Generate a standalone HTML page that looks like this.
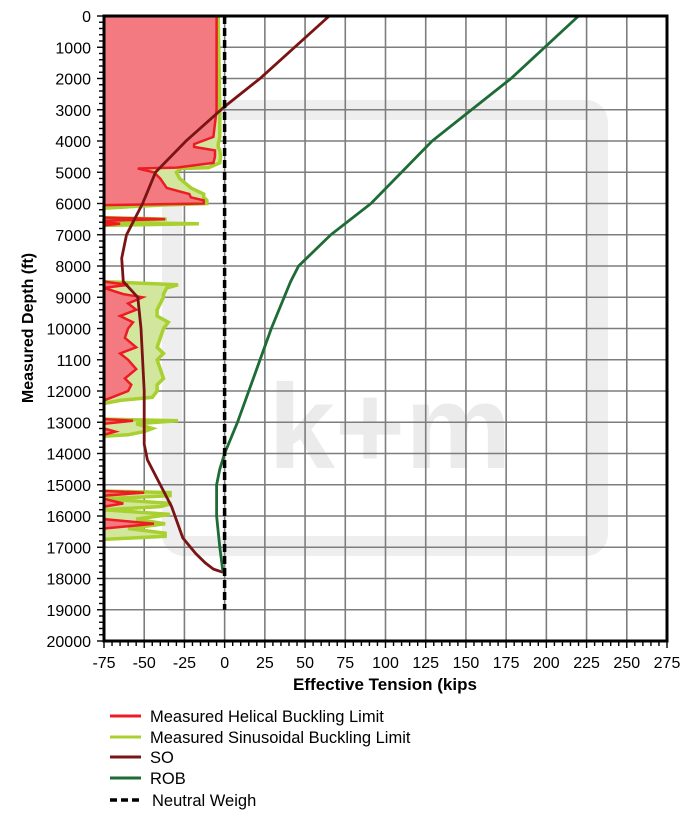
<!DOCTYPE html>
<html><head><meta charset="utf-8"><style>
body{margin:0;background:#fff;width:694px;height:819px;overflow:hidden;font-family:"Liberation Sans",Arial,sans-serif}
svg text{font-family:"Liberation Sans",Arial,sans-serif}
</style></head><body>
<svg id="chart" width="694" height="819" xmlns="http://www.w3.org/2000/svg">
<g id="wm">
<rect x="172" y="110" width="426" height="436" rx="12" fill="none" stroke="#eeeeee" stroke-width="20"/>
<text x="390" y="468" text-anchor="middle" font-size="120" font-weight="bold" fill="#ebebeb">k+m</text>
</g>
<g id="grid"></g>
<g id="fills"></g>
<g id="lines"></g>
<g id="axes"></g>
<text x="385" y="690" text-anchor="middle" font-size="17" font-weight="bold">Effective Tension (kips</text>
<text transform="translate(33,328) rotate(-90)" text-anchor="middle" font-size="16" font-weight="bold">Measured Depth (ft)</text>
<g font-size="16.5">
<g><line x1="110" x2="141" y1="716" y2="716" stroke="#ed1c24" stroke-width="3"/><text x="150" y="722">Measured Helical Buckling Limit</text></g>
<g><line x1="110" x2="141" y1="737" y2="737" stroke="#a8d030" stroke-width="3"/><text x="150" y="743">Measured Sinusoidal Buckling Limit</text></g>
<g><line x1="110" x2="141" y1="757" y2="757" stroke="#7a1414" stroke-width="3"/><text x="150" y="763">SO</text></g>
<g><line x1="110" x2="141" y1="778" y2="778" stroke="#1d6b35" stroke-width="3"/><text x="150" y="784">ROB</text></g>
<g><line x1="110" x2="141" y1="800" y2="800" stroke="#000" stroke-width="3.5" stroke-dasharray="7,4"/><text x="152" y="806">Neutral Weigh</text></g>
</g>
</svg>
<script>
const xTicks=[-75,-50,-25,0,25,50,75,100,125,150,175,200,225,250,275];
const yTicks=[0,1000,2000,3000,4000,5000,6000,7000,8000,9000,10000,11000,12000,13000,14000,15000,16000,17000,18000,19000,20000];
const yTickLabels=["0","1000","2000","3000","4000","5000","6000","7000","8000","9000","10000","1100","12000","13000","14000","15000","16000","17000","18000","19000","20000"];
const soDepth=[0,2000,2900,4000,5000,6000,7000,7750,8500,9000,10000,11000,12000,13000,13700,14200,15100,15700,16700,17200,17500,17700,17800];
const soTension=[65,22,0,-24,-43,-51,-61,-64,-63,-54,-52,-51,-50,-50,-50,-48,-39,-33,-26,-18,-12,-7,-1];
const robDepth=[0,2000,4000,6000,7000,8000,8500,10000,12000,13000,14000,14500,15000,16000,17000,17800];
const robTension=[220,178,129,91,66,46,41,29,15,8,0,-3,-5,-5,-3,-1];
const neutralDepth=[0,19000];
const neutralTension=[0,0];
const seg1Depth=[0,3000,3870,4100,4190,4300,4500,4700,4850,4880,5000,5200,5500,5700,5800,5900,6000,6050,6150,6250];
const seg1Helical=[-5,-5,-7,-19,-19,-6,-6,-7,-30,-54,-44,-40,-36,-22,-21,-13,-13,-75,-75,-75];
const seg1Sinus=[-4,-3,-3,-4,-4,-3,-2.5,-3,-10,-27,-30,-28,-21,-13,-13,-11,-11,-40,-75,-75];
const seg2Depth=[6450,6500,6550,6600,6650,6700];
const seg2Helical=[-75,-37,-75,-75,-65,-75];
const seg2Sinus=[-75,-36,-75,-75,-16,-75];
const seg3Depth=[8500,8600,8700,8900,9000,9200,9400,9600,9800,10000,10300,10600,10800,11000,11300,11600,11800,12000,12200,12300,12400];
const seg3Helical=[-75,-60,-75,-63,-51,-60,-55,-65,-57,-60,-62,-55,-65,-60,-55,-62,-58,-60,-70,-75,-75];
const seg3Sinus=[-75,-29,-36,-38,-38,-40,-42,-42,-35,-38,-40,-42,-38,-42,-40,-38,-42,-42,-45,-65,-75];
const seg4Depth=[12900,12950,13050,13200,13300,13400,13450];
const seg4Helical=[-75,-57,-75,-75,-68,-75,-75];
const seg4Sinus=[-75,-29,-55,-45,-50,-60,-75];
const seg5Depth=[15200,15250,15350,15450,15600,15700,15800,15950,16100,16250,16400,16550,16650,16750];
const seg5Helical=[-75,-50,-75,-75,-63,-75,-75,-75,-75,-44,-75,-75,-75,-75];
const seg5Sinus=[-75,-34,-34,-75,-33,-40,-75,-34,-55,-37,-60,-37,-37,-75];

const X0=104,X1=667,Y0=16,Y1=641;
const sx=v=>X0+(v+75)/350*(X1-X0);
const sy=d=>Y0+d/20000*(Y1-Y0);
const NS="http://www.w3.org/2000/svg";
function mk(tag,attrs,parent){const e=document.createElementNS(NS,tag);for(const k in attrs)e.setAttribute(k,attrs[k]);parent.appendChild(e);return e;}
const grid=document.getElementById('grid'),axes=document.getElementById('axes'),fills=document.getElementById('fills'),lines=document.getElementById('lines');
xTicks.forEach(t=>{const l=mk('line',{x1:sx(t),x2:sx(t),y1:Y0,y2:Y1,stroke:'#7d7d7d','stroke-width':1.6},grid);


const tx=mk('text',{x:sx(t),y:668,'text-anchor':'middle','font-size':16},axes);tx.textContent=t;

});
yTicks.forEach((t,i)=>{const l=mk('line',{x1:X0,x2:X1,y1:sy(t),y2:sy(t),stroke:'#7d7d7d','stroke-width':1.6},grid);


const tx=mk('text',{x:91,y:sy(t)+6,'text-anchor':'end','font-size':16},axes);tx.textContent=yTickLabels[i];

});
for(let v=-75;v<=275;v+=5){mk('line',{x1:sx(v),x2:sx(v),y1:Y1,y2:Y1+(v%25===0?7:5),stroke:'#000','stroke-width':1.4},axes);}
for(let d=0;d<=20000;d+=200){mk('line',{x1:X0,x2:X0-(d%1000===0?7:5),y1:sy(d),y2:sy(d),stroke:'#000','stroke-width':1.4},axes);}
const fr=mk('rect',{x:X0,y:Y0,width:X1-X0,height:Y1-Y0,fill:'none',stroke:'#000','stroke-width':3},axes);


function pts(ds,vs){return ds.map((d,i)=>sx(vs[i]).toFixed(1)+','+sy(d).toFixed(1)).join(' ');}
function area(ds,vs){return sx(-75)+','+sy(ds[0])+' '+pts(ds,vs)+' '+sx(-75)+','+sy(ds[ds.length-1]);}
const segs=[[seg1Depth,seg1Helical,seg1Sinus],[seg2Depth,seg2Helical,seg2Sinus],[seg3Depth,seg3Helical,seg3Sinus],[seg4Depth,seg4Helical,seg4Sinus],[seg5Depth,seg5Helical,seg5Sinus]];
segs.forEach(([d,h,s])=>{
const a=mk('polygon',{points:area(d,s),fill:'#d3e69e'},fills);


const b=mk('polygon',{points:area(d,h),fill:'#f27a80'},fills);


const c=mk('polyline',{points:pts(d,s),fill:'none',stroke:'#a8d030','stroke-width':3.5},lines);


const e=mk('polyline',{points:pts(d,h),fill:'none',stroke:'#ed1c24','stroke-width':2.5},lines);


});
const so=mk('polyline',{points:pts(soDepth,soTension),fill:'none',stroke:'#7a1414','stroke-width':2.8},lines);


const rob=mk('polyline',{points:pts(robDepth,robTension),fill:'none',stroke:'#1d6b35','stroke-width':2.8},lines);


const nw=mk('polyline',{points:pts(neutralDepth,neutralTension),fill:'none',stroke:'#000','stroke-width':3.5,'stroke-dasharray':'8,4'},lines);


</script>
</body></html>
